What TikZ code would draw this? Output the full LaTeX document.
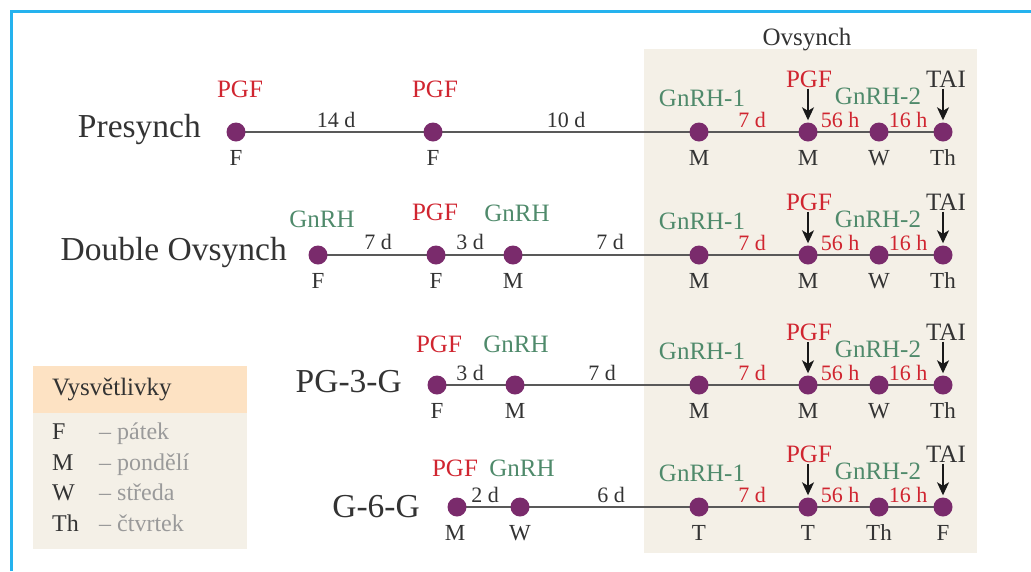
\documentclass[tikz,border=0pt]{standalone}
\usepackage{fontspec}
\setmainfont{Liberation Serif}
\usetikzlibrary{arrows.meta}

\definecolor{frameblue}{HTML}{25B2EE}
\definecolor{panelbg}{HTML}{F4F0E7}
\definecolor{legendhead}{HTML}{FDE2C3}
\definecolor{dotpurple}{HTML}{7A2B6C}
\definecolor{pgfred}{HTML}{D02530}
\definecolor{gnrhgreen}{HTML}{4F8A6B}
\definecolor{inkdark}{HTML}{333333}
\definecolor{inklight}{HTML}{9A9A9A}
\definecolor{axisgray}{HTML}{595959}

\newcommand{\fsz}[1]{\fontsize{#1}{#1}\selectfont}

\pgfdeclarelayer{panel}
\pgfdeclarelayer{axes}
\pgfsetlayers{panel,axes,main}

\tikzset{
  dotnode/.style={circle, fill=dotpurple, minimum size=19pt, inner sep=0pt},
  txt/.style={anchor=base, inner sep=0pt, outer sep=0pt},
  drug/.style={txt, font=\fsz{25}},
  pgflbl/.style={drug, text=pgfred},
  gnrhlbl/.style={drug, text=gnrhgreen},
  tailbl/.style={drug, text=inkdark},
  gap/.style={txt, font=\fsz{22}, text=inkdark},
  gapred/.style={gap, text=pgfred},
  daylbl/.style={txt, font=\fsz{23}, text=inkdark},
  rowtitle/.style={anchor=base east, inner sep=0pt, font=\fsz{33.5}, text=inkdark},
  axis/.style={draw=axisgray, line width=1.6pt},
  cue/.style={draw=black!90, line width=1.5pt,
    -{Stealth[length=13pt,width=12pt,inset=3.5pt]},
    shorten <=1.5pt, shorten >=2pt},
  legtxt/.style={anchor=base west, inner sep=0pt, font=\fsz{24}, text=inkdark},
}

% Ovsynch block of one row: #1 axis y, #2 row tag, #3-#6 weekday letters
\newcommand{\ovsynchpart}[6]{%
  \node[dotnode] (ov#2a) at (699,#1) {};
  \node[dotnode] (ov#2b) at (808,#1) {};
  \node[dotnode] (ov#2c) at (879,#1) {};
  \node[dotnode] (ov#2d) at (943,#1) {};
  \node[gnrhlbl] (gnA#2) at (702,#1-26) {GnRH-1};
  \node[gapred] (gapS#2) at (752,#1-5) {7 d};
  \node[pgflbl] (pgf#2) at (809,#1-45) {PGF};
  \node[gapred] (gapH#2) at (840,#1-5) {56 h};
  \node[gnrhlbl] (gnB#2) at (878,#1-28) {GnRH-2};
  \node[gapred] (gapT#2) at (908,#1-5) {16 h};
  \node[tailbl] (tai#2) at (946,#1-45) {TAI};
  \draw[cue] (pgf#2.south -| ov#2b) -- (ov#2b.north);
  \draw[cue] (tai#2.south -| ov#2d) -- (ov#2d.north);
  \node[daylbl] (dA#2) at (699,#1+33) {#3};
  \node[daylbl] (dB#2) at (808,#1+33) {#4};
  \node[daylbl] (dC#2) at (879,#1+33) {#5};
  \node[daylbl] (dD#2) at (943,#1+33) {#6};
}

\begin{document}
\begin{tikzpicture}[x=1pt,y=-1pt]
\useasboundingbox (0,0) rectangle (1031,571);

% frame
\draw[frameblue, line width=3pt] (11,571) -- (11,11) -- (1031,11);

% Ovsynch panel
\begin{pgfonlayer}{panel}
  \fill[panelbg] (644,49) rectangle (977,553);
\end{pgfonlayer}
\node[txt, font=\fsz{25}, text=inkdark] (ovtitle) at (807,45) {Ovsynch};

% legend
\fill[legendhead] (33,366) rectangle (247,413);
\fill[panelbg] (33,413) rectangle (247,549);
\node[legtxt, font=\fsz{25}] (leghead) at (52,395) {Vysvětlivky};
\node[legtxt] (legF) at (52,439) {F};
\node[legtxt, text=inklight] (legFt) at (99,439) {– pátek};
\node[legtxt] (legM) at (52,470) {M};
\node[legtxt, text=inklight] (legMt) at (99,470) {– pondělí};
\node[legtxt] (legW) at (52,500) {W};
\node[legtxt, text=inklight] (legWt) at (99,500) {– středa};
\node[legtxt] (legTh) at (52,531) {Th};
\node[legtxt, text=inklight] (legTht) at (99,531) {– čtvrtek};

% Presynch
\node[rowtitle] (tA) at (201,137) {Presynch};
\node[dotnode] (pA1) at (236,132) {};
\node[dotnode] (pA2) at (433,132) {};
\node[pgflbl] (lA1) at (240,97) {PGF};
\node[pgflbl] (lA2) at (435,97) {PGF};
\node[gap] (gA1) at (336,127) {14 d};
\node[gap] (gA2) at (566,127) {10 d};
\node[daylbl] (dA1) at (236,165) {F};
\node[daylbl] (dA2) at (433,165) {F};
\ovsynchpart{132}{A}{M}{M}{W}{Th}
\begin{pgfonlayer}{axes}
  \draw[axis] (pA1.center) -- (ovAd.center);
\end{pgfonlayer}

% Double Ovsynch
\node[rowtitle] (tB) at (287,260) {Double Ovsynch};
\node[dotnode] (pB1) at (318,255) {};
\node[dotnode] (pB2) at (436,255) {};
\node[dotnode] (pB3) at (513,255) {};
\node[gnrhlbl] (lB1) at (322,227) {GnRH};
\node[pgflbl] (lB2) at (435,220) {PGF};
\node[gnrhlbl] (lB3) at (517,221) {GnRH};
\node[gap] (gB1) at (378,249) {7 d};
\node[gap] (gB2) at (470,249) {3 d};
\node[gap] (gB3) at (610,249) {7 d};
\node[daylbl] (dB1) at (318,288) {F};
\node[daylbl] (dB2) at (436,288) {F};
\node[daylbl] (dB3) at (513,288) {M};
\ovsynchpart{255}{B}{M}{M}{W}{Th}
\begin{pgfonlayer}{axes}
  \draw[axis] (pB1.center) -- (ovBd.center);
\end{pgfonlayer}

% PG-3-G
\node[rowtitle] (tC) at (402,392) {PG-3-G};
\node[dotnode] (pC1) at (437,385) {};
\node[dotnode] (pC2) at (515,385) {};
\node[pgflbl] (lC1) at (439,352) {PGF};
\node[gnrhlbl] (lC2) at (516,352) {GnRH};
\node[gap] (gC1) at (470,380) {3 d};
\node[gap] (gC2) at (602,380) {7 d};
\node[daylbl] (dC1) at (437,418) {F};
\node[daylbl] (dC2) at (515,418) {M};
\ovsynchpart{385}{C}{M}{M}{W}{Th}
\begin{pgfonlayer}{axes}
  \draw[axis] (pC1.center) -- (ovCd.center);
\end{pgfonlayer}

% G-6-G
\node[rowtitle] (tD) at (420,517) {G-6-G};
\node[dotnode] (pD1) at (457,507) {};
\node[dotnode] (pD2) at (520,507) {};
\node[pgflbl] (lD1) at (455,476) {PGF};
\node[gnrhlbl] (lD2) at (522,476) {GnRH};
\node[gap] (gD1) at (485,502) {2 d};
\node[gap] (gD2) at (611,502) {6 d};
\node[daylbl] (dD1) at (455,540) {M};
\node[daylbl] (dD2) at (520,540) {W};
\ovsynchpart{507}{D}{T}{T}{Th}{F}
\begin{pgfonlayer}{axes}
  \draw[axis] (pD1.center) -- (ovDd.center);
\end{pgfonlayer}

\end{tikzpicture}
\end{document}
